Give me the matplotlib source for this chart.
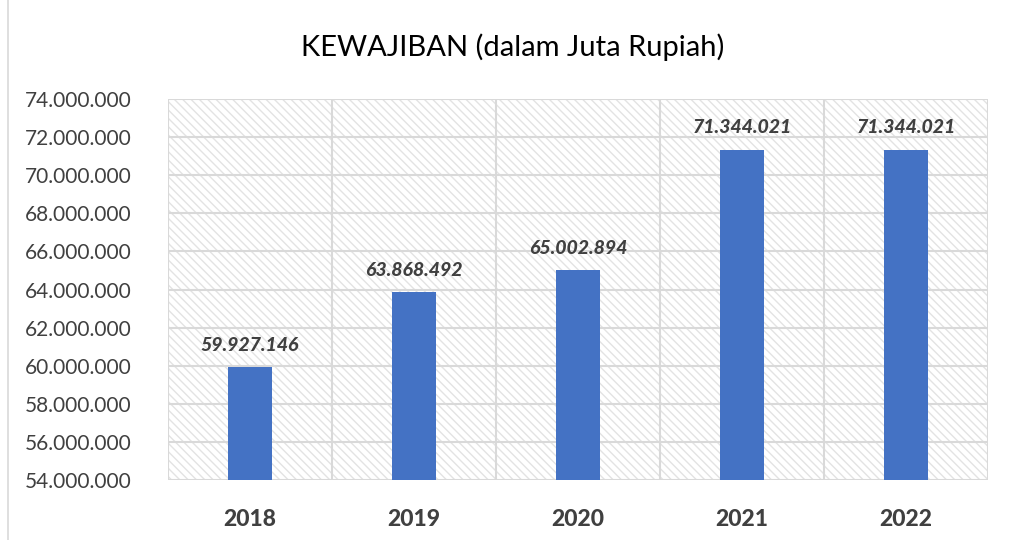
import matplotlib
matplotlib.use("Agg")
import matplotlib.pyplot as plt
from matplotlib.patches import Rectangle
from matplotlib.ticker import FuncFormatter

years = ["2018", "2019", "2020", "2021", "2022"]
values = [59927146, 63868492, 65002894, 71344021, 71344021]

plt.rcParams['font.family'] = ['Lato', 'DejaVu Sans']
plt.rcParams['hatch.linewidth'] = 1.0
plt.rcParams['hatch.color'] = '#e3e3e3'

fig = plt.figure(figsize=(10.09, 5.4), dpi=100)
ax = fig.add_axes([0.1665, 0.111, 0.8125, 0.7057])

fig.patches.append(Rectangle((0.008, -0.01), 1.0, 1.02, transform=fig.transFigure,
                             fill=False, edgecolor='#d9d9d9', lw=1.2))

# hatched plot background
ax.add_patch(Rectangle((0, 0), 1, 1, transform=ax.transAxes, facecolor='white',
                       edgecolor='#e3e3e3', hatch='\\\\\\\\', lw=0, zorder=0))

x = range(len(years))
ax.bar(x, values, width=0.27, color='#4472c4', zorder=3)

for xi, v in zip(x, values):
    lbl = f"{v:,}".replace(",", ".")
    ax.text(xi, v + 700000, lbl, ha='center', va='bottom', fontsize=14,
            fontweight='black', fontstyle='italic', color='#404040', zorder=4)

ax.set_ylim(54000000, 74000000)
ax.set_xlim(-0.5, len(years) - 0.5)
ax.set_yticks(range(54000000, 74000001, 2000000))
ax.yaxis.set_major_formatter(FuncFormatter(lambda v, p: f"{int(v):,}".replace(",", ".")))
ax.set_xticks(list(x))
ax.set_xticklabels(years, fontsize=16.5, fontweight='black', color='#404040')
ax.tick_params(axis='y', labelsize=15, labelcolor='#404040', length=0, pad=26)
ax.tick_params(axis='x', length=0, pad=21)

for yv in range(54000000, 74000001, 2000000):
    ax.axhline(yv, color='#d9d9d9', lw=1.5, zorder=1)
for b in [-0.5, 0.5, 1.5, 2.5, 3.5, 4.5]:
    ax.axvline(b, color='#d9d9d9', lw=1.5, zorder=1)

for s in ax.spines.values():
    s.set_visible(False)

fig.text(0.508, 0.912, "KEWAJIBAN (dalam Juta Rupiah)", ha='center', va='center',
         fontsize=21, color='black')

fig.savefig("out.png", dpi=100)
